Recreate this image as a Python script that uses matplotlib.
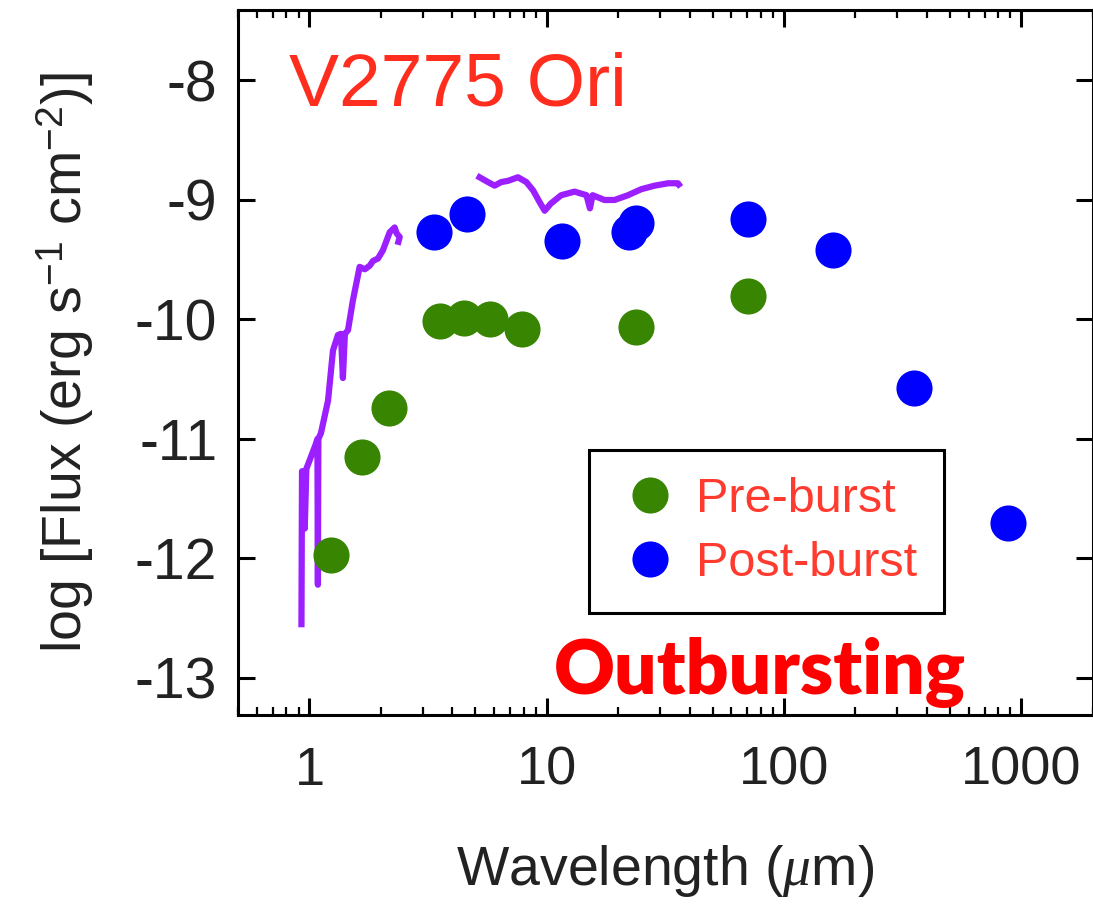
import matplotlib
matplotlib.use("Agg")
import matplotlib.pyplot as plt
from matplotlib.lines import Line2D
import numpy as np

plt.rcParams['font.family'] = ['Liberation Sans', 'DejaVu Sans']
plt.rcParams['mathtext.fontset'] = 'custom'
plt.rcParams['mathtext.it'] = 'Liberation Serif:italic'
plt.rcParams['mathtext.rm'] = 'Liberation Sans'

# photometry (wavelength in micron, log flux)
pre_wl = [1.235, 1.66, 2.16, 3.55, 4.5, 5.74, 7.88, 23.7, 70.3]
pre_flux = [-11.97, -11.15, -10.74, -10.01, -9.99, -10.0, -10.08, -10.06, -9.80]

post_wl = [3.36, 4.61, 11.6, 22.2, 23.7, 70.3, 160.8, 351.6, 875.0]
post_flux = [-9.27, -9.12, -9.34, -9.27, -9.19, -9.16, -9.42, -10.57, -11.70]

# near-IR spectrum
nir_wl = [0.925, 0.93, 0.95, 0.955, 0.97, 1.06, 1.08, 1.085, 1.09, 1.118, 1.197,
          1.256, 1.318, 1.357, 1.383, 1.41, 1.453, 1.524, 1.627, 1.71, 1.794,
          1.852, 1.944, 2.04, 2.178, 2.285, 2.33, 2.4, 2.37]
nir_flux = [-12.55, -11.27, -11.27, -11.75, -11.25, -11.05, -11.0, -12.22, -11.0,
            -10.95, -10.68, -10.26, -10.13, -10.12, -10.49, -10.12, -10.09, -9.84,
            -9.56, -9.58, -9.55, -9.51, -9.49, -9.42, -9.27, -9.23, -9.28, -9.31, -9.35]

# mid-IR spectrum
mir_wl = [5.21, 5.65, 6.03, 6.43, 6.86, 7.56, 8.2, 8.76, 9.34, 9.8, 10.4, 11.5,
          13.1, 14.7, 15.2, 15.6, 17.5, 19.3, 22.0, 25.0, 28.5, 32.5, 35.7, 36.0]
mir_flux = [-8.81, -8.85, -8.88, -8.85, -8.84, -8.81, -8.85, -8.92, -9.02, -9.09,
            -9.03, -8.96, -8.93, -8.96, -9.07, -8.96, -9.0, -9.0, -8.96, -8.91,
            -8.88, -8.86, -8.86, -8.87]

yticks = [-8, -9, -10, -11, -12, -13]
xticks = [1, 10, 100, 1000]

green = '#378500'
blue = '#0000ff'
purple = '#9b1fff'

fig = plt.figure(figsize=(10.93, 9.17), dpi=100)
ax = fig.add_axes([0.2178, 0.2203, 0.782, 0.7688])

ax.plot(nir_wl, nir_flux, color=purple, lw=4.5)
ax.plot(mir_wl, mir_flux, color=purple, lw=4.5)
ax.plot(pre_wl, pre_flux, 'o', color=green, ms=26, mec='none')
ax.plot(post_wl, post_flux, 'o', color=blue, ms=26, mec='none')

ax.set_xscale('log')
ax.set_xlim(0.5, 2000)
ax.set_ylim(-13.31, -7.41)

ax.set_xticks(xticks)
ax.set_xticklabels([str(t) for t in xticks])
ax.set_yticks(yticks)
ax.set_yticklabels([str(t) for t in yticks])
ax.yaxis.set_minor_locator(matplotlib.ticker.NullLocator())

ax.tick_params(which='both', direction='in', top=True, right=True, colors='black',
               labelcolor='#222222')
ax.tick_params(which='major', length=12, width=2.2)
ax.tick_params(which='minor', length=6, width=1.6)
ax.tick_params(axis='x', labelsize=39, pad=22)
ax.tick_params(axis='y', labelsize=41, pad=15)
for s in ax.spines.values():
    s.set_linewidth(2.2)

ax.set_xlabel(r'Wavelength ($\mu$m)', fontsize=40, color='#222222', labelpad=34)
ax.set_ylabel(r'log [Flux (erg s$^{\mathregular{-1}}$ cm$^{\mathregular{-2}}$)]',
              fontsize=40, color='#222222', labelpad=28)

ax.text(0.06, 0.865, 'V2775 Ori', transform=ax.transAxes, fontsize=54,
        color='#ff2d1e')
ax.text(0.37, 0.03, 'Outbursting', transform=ax.transAxes, fontsize=54,
        color='#ff0000', family='Lato', weight='heavy')

handles = [Line2D([], [], ls='none', marker='o', color=green, ms=26, mec='none'),
           Line2D([], [], ls='none', marker='o', color=blue, ms=26, mec='none')]
leg = ax.legend(handles, ['Pre-burst', 'Post-burst'], loc='upper left',
                bbox_to_anchor=(0.411, 0.376), fontsize=35, labelcolor='#ff3b2f',
                fancybox=False, edgecolor='black', framealpha=1,
                handletextpad=0.25, handlelength=1.4, borderpad=0.55,
                labelspacing=0.4, borderaxespad=0)
leg.get_frame().set_linewidth(2.2)

plt.savefig('out.png', dpi=100)
